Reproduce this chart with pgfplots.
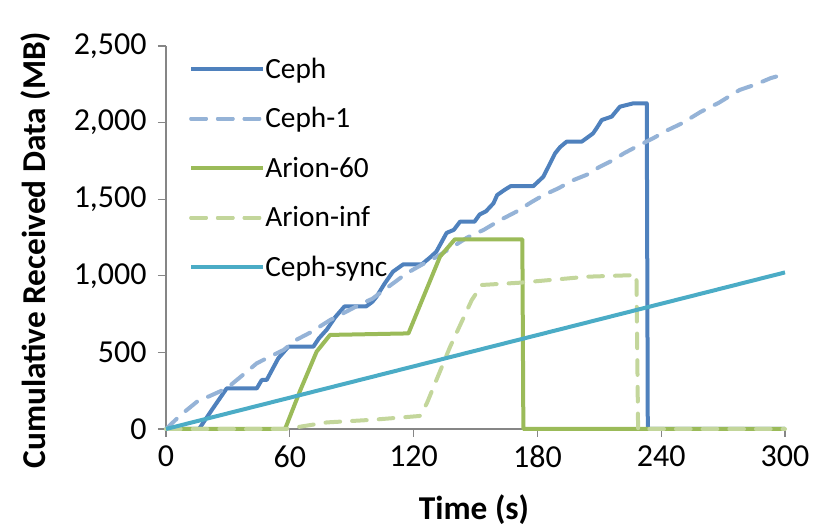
\documentclass[border=0pt]{standalone}
\usepackage{fontspec}
\setmainfont{Carlito}
\usepackage{pgfplots}
\pgfplotsset{compat=1.18}
\definecolor{cephc}{RGB}{79,129,189}
\definecolor{cephone}{RGB}{149,179,215}
\definecolor{arionsixty}{RGB}{155,187,89}
\definecolor{arioninf}{RGB}{195,214,155}
\definecolor{cephsync}{RGB}{75,172,198}
\definecolor{axisgray}{RGB}{134,134,134}
\begin{document}
\begin{tikzpicture}
\begin{axis}[
  at={(0,0)}, anchor=south west,
  scale only axis, width=464.25pt, height=287.25pt,
  xmin=0, xmax=300, ymin=0, ymax=2500,
  clip=false,
  axis lines*=left,
  axis line style={draw=axisgray, line width=1pt},
  tick style={draw=axisgray, line width=1pt},
  tick align=outside, major tick length=6pt,
  xtick={0,60,...,300}, ytick={0,500,...,2500},
  /pgf/number format/1000 sep={,},
  /pgf/number format/assume math mode=true,
  ticklabel style={font=\fontsize{24}{28}\selectfont},
  xticklabel style={yshift=-3pt},
  yticklabel style={xshift=-5pt},
  xlabel={Time (s)},
  ylabel={Cumulative Received Data (MB)},
  label style={font=\bfseries\fontsize{25}{30}\selectfont},
  xlabel style={at={(axis description cs:0.4976,-0.2376)}, anchor=base},
  ylabel style={at={(axis description cs:-0.1939,0.467)}, anchor=base},
  legend style={at={(axis description cs:0.0307,0.977)}, anchor=north west,
    draw=none, fill=none, font=\fontsize{22}{26}\selectfont,
    row sep=20.5pt, nodes={inner sep=0pt}},
  legend cell align=left,
  legend image code/.code={\path (0pt,0pt) -- (54pt,0pt);\draw[#1] (0pt,0pt) -- (51pt,0pt);},
  /tikz/every even column/.append style={column sep=6pt},
  every axis plot/.append style={line width=3pt, line join=round},
]
\addplot[cephc] coordinates {
(0,0) (16,0) (22.5,130) (29.4,265) (44,265) (46.4,320) (48.8,320) (54.4,461) (59.3,537) (71.4,537)
(74,590) (78,650) (82,730) (86.5,800) (97,800) (100,830) (102,863) (106,950) (110,1027) (115,1075)
(124,1075) (128,1120) (131,1157) (136,1280) (139.5,1300) (142.5,1353) (149.5,1353) (152,1400)
(155,1420) (158.7,1473) (160.5,1527) (164,1560) (167,1585) (178,1585) (182.9,1647) (188.6,1800)
(191,1840) (194.2,1876) (201.5,1876) (204,1900) (207,1930) (209,1970) (211.2,2017) (216,2039)
(220,2104) (226.5,2126) (233,2126) (233.5,0) (300,0)};
\addlegendentry{Ceph}
\addplot[cephone, dash pattern=on 11pt off 9pt, line cap=round] coordinates {
(0,0) (7,90) (15,178) (22,220) (29.4,265) (37,350) (44,429) (50,470) (57,516) (63,581) (70,630)
(79.5,711) (88,770) (95,820) (100,850) (108,930) (114,990) (118,1027) (125,1080) (132,1130)
(139,1190) (146,1250) (154,1300) (162,1364) (170,1420) (177,1480) (183,1527) (190,1570)
(197.5,1625) (204,1660) (210,1710) (216.8,1756) (222,1800) (229,1850) (236,1897) (243,1950)
(250,1995) (259,2069) (268,2130) (278,2213) (286,2250) (293,2290) (300,2317)};
\addlegendentry{Ceph-1}
\addplot[arionsixty] coordinates {
(0,0) (57.7,0) (65,250) (73,505) (79.5,614) (117.5,624) (125,870) (132.8,1125) (140,1238)
(172.7,1238) (173.2,0) (300,0)};
\addlegendentry{Arion-60}
\addplot[arioninf, dash pattern=on 11pt off 9pt, line cap=round] coordinates {
(0,0) (58,0) (78,43) (100,60) (123,85) (126.4,167) (137.7,537) (148.2,842) (153,940)
(171.6,955) (204,994) (228,1005) (228.8,0) (300,0)};
\addlegendentry{Arion-inf}
\addplot[cephsync] coordinates {(0,0) (300,1022)};
\addlegendentry{Ceph-sync}
\end{axis}
\pgfresetboundingbox
\path[use as bounding box] (-124.5pt,-75.75pt) rectangle (493.5pt,321.75pt);
\end{tikzpicture}
\end{document}
